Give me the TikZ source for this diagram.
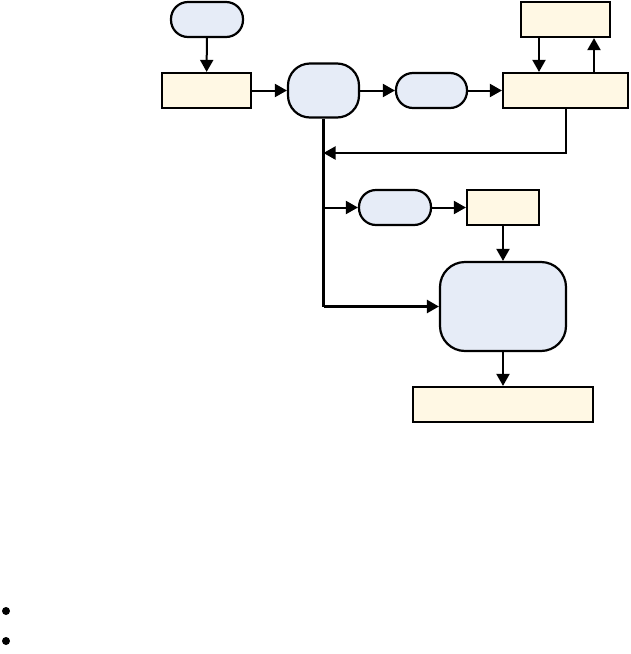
\documentclass[tikz,border=0pt]{standalone}
\usetikzlibrary{arrows.meta,calc}

\definecolor{procblue}{RGB}{230,236,247}
\definecolor{stepyellow}{RGB}{255,248,228}

\begin{document}
\begin{tikzpicture}[x=1pt,y=-1pt,
        every node/.style={inner sep=0pt,line width=2.2pt},
        pill/.style={draw,fill=procblue,rounded corners=17pt,minimum width=72pt,minimum height=35pt},
        stepbox/.style={draw,fill=stepyellow,minimum height=35pt},
        hubbox/.style={draw,fill=procblue,rounded corners=#1},
        conn/.style={line width=2pt,-{Triangle[length=12pt,width=13pt]}},
        dot/.style={circle,fill,minimum size=8pt}]
            \useasboundingbox (0,0) rectangle (630,654);

            \node[pill] (start) at (207,19.5) {};
            \node[stepbox,minimum width=89pt] (load) at (206.5,90.5) {};
            \node[hubbox=22pt,minimum width=71pt,minimum height=54pt] (hub) at (323.5,90.5) {};
            \node[pill,minimum width=71pt] (query) at (431.5,90.5) {};
            \node[stepbox,minimum width=125pt] (store) at (565.5,90.5) {};
            \node[stepbox,minimum width=89pt] (cache) at (565.5,19.5) {};

            \node[pill] (filter) at (395,207.5) {};
            \node[stepbox,minimum width=72pt] (check) at (503,207.5) {};
            \node[hubbox=25pt,minimum width=126pt,minimum height=89pt] (merge) at (503,306.5) {};
            \node[stepbox,minimum width=180pt] (out) at (503,404.5) {};

            \node[dot] (b1) at (6,611) {};
            \node[dot] (b2) at (6,641) {};

            \draw[conn] (start) -- (load);
            \draw[conn] (load) -- (hub);
            \draw[conn] (hub) -- (query);
            \draw[conn] (query) -- (store);
            \draw[conn] ([xshift=-26.5pt]cache.south) -- ([xshift=-26.5pt]store.north);
            \draw[conn] ([xshift=28.5pt]store.north) -- ([xshift=28.5pt]cache.south);
            \draw[conn] (store.south) |- (hub.south |- 0,153);

            % trunk below the hub
            \coordinate (split) at (hub.south |- filter.west);
            \draw[line width=2.5pt] (hub.south) -- (hub.south |- merge.west);
            \draw[conn,line width=2.5pt] (hub.south |- merge.west) -- (merge.west);
            \draw[conn] (split) -- (filter);
            \draw[conn] (filter) -- (check);
            \draw[conn] (check) -- (merge);
            \draw[conn] (merge) -- (out);
        \end{tikzpicture}
\end{document}
